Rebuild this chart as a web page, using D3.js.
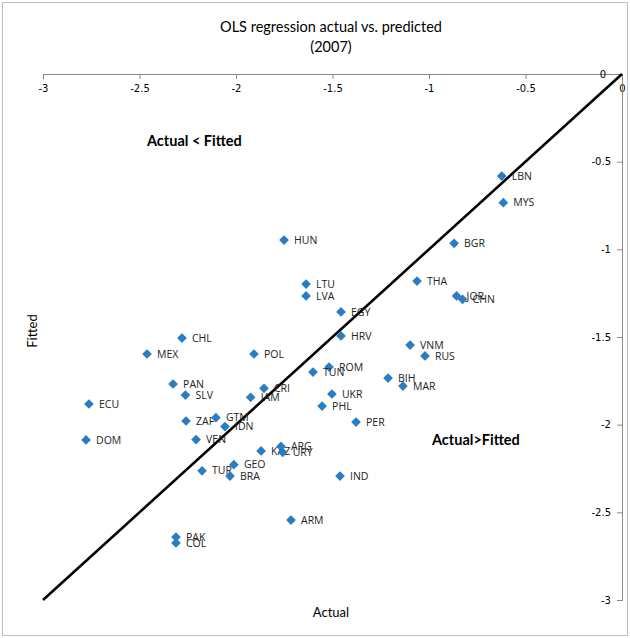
<!DOCTYPE html>
<html>
<head>
<meta charset="utf-8">
<script src="https://cdn.jsdelivr.net/npm/d3@7"></script>
<style>
  body { margin: 0; background: #fff; }
  text { font-family: "Open Sans", "DejaVu Sans", sans-serif; }
</style>
</head>
<body>
<div id="chart"></div>
<script>
// country codes, actual values, fitted values
var countries = ["LBN","MYS","BGR","THA","JOR","CHN","HUN","LTU","LVA","EGY","HRV","VNM","RUS","ROM","TUN","BIH","MAR","UKR","PHL","PER",
                 "CHL","MEX","POL","PAN","SLV","CRI","JAM","ECU","ZAF","GTM","IDN","DOM","VEN","KAZ","ARG","URY","GEO","TUR","BRA","IND","ARM","PAK","COL"];
var actual = [-0.623,-0.615,-0.870,-1.062,-0.857,-0.826,-1.751,-1.637,-1.637,-1.456,-1.456,-1.098,-1.021,-1.518,-1.601,-1.212,-1.135,-1.503,-1.554,-1.378,
              -2.280,-2.461,-1.907,-2.326,-2.262,-1.855,-1.924,-2.762,-2.259,-2.104,-2.057,-2.777,-2.207,-1.870,-1.767,-1.758,-2.011,-2.176,-2.031,-1.461,-1.715,-2.311,-2.311];
var fitted = [-0.582,-0.734,-0.966,-1.181,-1.266,-1.285,-0.947,-1.198,-1.266,-1.357,-1.494,-1.546,-1.608,-1.671,-1.700,-1.734,-1.780,-1.825,-1.894,-1.985,
              -1.506,-1.597,-1.597,-1.768,-1.831,-1.793,-1.844,-1.882,-1.979,-1.960,-2.011,-2.087,-2.085,-2.150,-2.124,-2.158,-2.228,-2.263,-2.293,-2.293,-2.544,-2.641,-2.675];
var xTicks = [-3, -2.5, -2, -1.5, -1, -0.5, 0];
var yTicks = [0, -0.5, -1, -1.5, -2, -2.5, -3];

var W = 630, H = 638;
var svg = d3.select('#chart').append('svg')
    .attr('width', W)
    .attr('height', H);

// chart border
svg.append('rect')
    .attr('x', 2.5).attr('y', 2.5)
    .attr('width', W - 5).attr('height', H - 5)
    .attr('fill', 'none')
    .attr('stroke', '#bfbfbf');

var x = d3.scaleLinear().domain([-3, 0]).range([43, 622]);
var y = d3.scaleLinear().domain([-3, 0]).range([600, 74]);

// plain hyphen, like the spreadsheet labels
var fmt = function(d) { return String(d); };

// axes cross at zero: x axis along top, y axis along right side
var xAxis = svg.append('g')
    .attr('transform', 'translate(0,' + y(0) + ')')
    .call(d3.axisBottom(x).tickValues(xTicks).tickFormat(fmt).tickSize(5).tickPadding(6));
var yAxis = svg.append('g')
    .attr('transform', 'translate(' + x(0) + ',0)')
    .call(d3.axisLeft(y).tickValues(yTicks).tickFormat(fmt).tickSize(5).tickPadding(6));
[xAxis, yAxis].forEach(function(a) {
    a.select('.domain').attr('stroke', '#868686');
    a.selectAll('.tick line').attr('stroke', '#868686');
    a.selectAll('.tick text')
        .attr('fill', '#000')
        .style('font-family', 'DejaVu Sans')
        .style('font-size', '10px');
});
yAxis.selectAll('.tick text').filter(function(d) { return d === 0; }).attr('dx', -5);

// 45 degree line
svg.append('line')
    .attr('x1', x(-3)).attr('y1', y(-3))
    .attr('x2', x(0)).attr('y2', y(0))
    .attr('stroke', '#000')
    .attr('stroke-width', 2.6);

var data = countries.map(function(c, i) { return { name: c, a: actual[i], f: fitted[i] }; });

var pts = svg.selectAll('.pt').data(data).enter().append('g')
    .attr('class', 'pt')
    .attr('transform', function(d) { return 'translate(' + x(d.a) + ',' + y(d.f) + ')'; });

pts.append('path')
    .attr('d', d3.symbol().type(d3.symbolDiamond2).size(60))
    .attr('fill', '#2a7dc0');

pts.append('text')
    .attr('x', 10)
    .attr('dy', '0.35em')
    .style('font-size', '10.5px')
    .attr('fill', '#222')
    .text(function(d) { return d.name; });

// title
svg.append('text')
    .attr('x', 331).attr('y', 32)
    .attr('text-anchor', 'middle')
    .style('font-family', 'Lato, sans-serif')
    .style('font-size', '14.5px')
    .text('OLS regression actual vs. predicted');
svg.append('text')
    .attr('x', 331).attr('y', 52)
    .attr('text-anchor', 'middle')
    .style('font-family', 'Lato, sans-serif')
    .style('font-size', '14.5px')
    .text('(2007)');

// axis titles
svg.append('text')
    .attr('x', 331).attr('y', 617)
    .attr('text-anchor', 'middle')
    .style('font-family', 'Lato, sans-serif')
    .style('font-size', '13px')
    .text('Actual');
svg.append('text')
    .attr('transform', 'translate(37,331) rotate(-90)')
    .attr('text-anchor', 'middle')
    .style('font-family', 'Lato, sans-serif')
    .style('font-size', '13px')
    .text('Fitted');

// region notes
svg.append('text')
    .attr('x', 147).attr('y', 146)
    .style('font-family', 'Lato, sans-serif')
    .style('font-weight', 'bold')
    .style('font-size', '14.5px')
    .text('Actual < Fitted');
svg.append('text')
    .attr('x', 432).attr('y', 445)
    .style('font-family', 'Lato, sans-serif')
    .style('font-weight', 'bold')
    .style('font-size', '14.5px')
    .text('Actual>Fitted');
</script>
</body>
</html>
